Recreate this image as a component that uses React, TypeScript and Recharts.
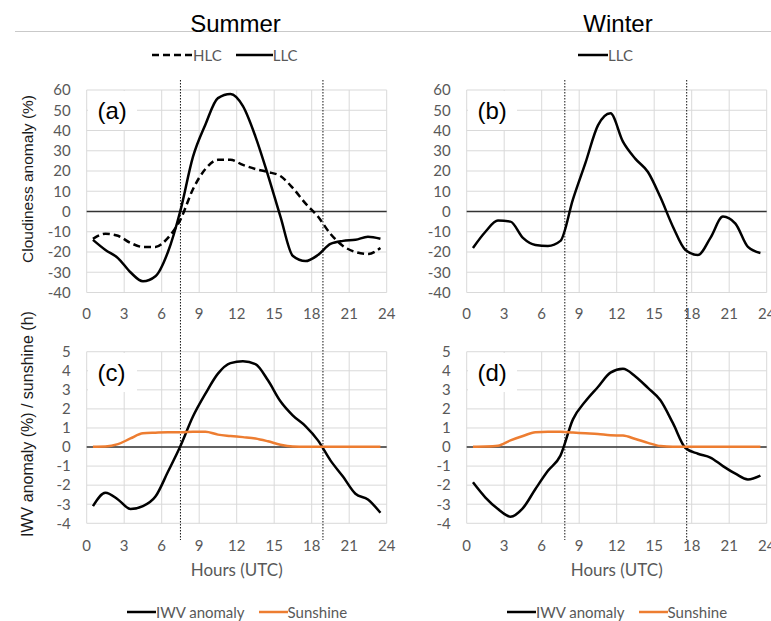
import React from "react"
import { LineChart, Line, XAxis, YAxis, CartesianGrid, ReferenceLine, Legend } from "recharts"

// hourly means, plotted at the middle of each hour
const hours = [0.5, 1.5, 2.5, 3.5, 4.5, 5.5, 6.5, 7.5, 8.5, 9.5, 10.5, 11.5, 12.5, 13.5, 14.5, 15.5, 16.5, 17.5, 18.5, 19.5, 20.5, 21.5, 22.5, 23.5]

const summerHLC = [-13.5, -11, -12, -15.5, -17.5, -17.5, -13, -4, 11, 21, 25.5, 25.5, 23, 21, 19.5, 17.5, 11.5, 4, -2.5, -11, -17, -20, -21, -18]
const summerLLC = [-14, -19, -23, -30, -34.5, -32, -20, 0.5, 27, 43, 56, 58, 52, 37, 18, -2.5, -22, -24.5, -21.5, -16, -14.5, -14, -12.5, -13.5]
const winterLLC = [-18, -10, -4.5, -5, -13, -16.5, -17, -14.5, 6, 24, 42.5, 48.5, 34.5, 26, 19.5, 7, -7.5, -19, -21.5, -13, -2.5, -6, -17.5, -20.5]

const summerIWV = [-3.1, -2.4, -2.75, -3.25, -3.1, -2.6, -1.3, 0.05, 1.6, 2.8, 3.85, 4.4, 4.5, 4.35, 3.5, 2.4, 1.65, 1.1, 0.35, -0.7, -1.55, -2.45, -2.75, -3.45]
const summerSunshine = [0.02, 0.03, 0.15, 0.45, 0.72, 0.75, 0.77, 0.77, 0.8, 0.8, 0.65, 0.58, 0.52, 0.45, 0.3, 0.12, 0.03, 0.02, 0.02, 0.02, 0.02, 0.02, 0.02, 0.02]
const winterIWV = [-1.85, -2.65, -3.25, -3.65, -3.2, -2.2, -1.25, -0.45, 1.45, 2.4, 3.15, 3.9, 4.1, 3.7, 3.1, 2.45, 1.25, -0.05, -0.35, -0.55, -1.0, -1.4, -1.7, -1.5]
const winterSunshine = [0.02, 0.03, 0.07, 0.35, 0.58, 0.77, 0.8, 0.8, 0.76, 0.72, 0.68, 0.62, 0.6, 0.42, 0.22, 0.05, 0.02, 0.02, 0.02, 0.02, 0.02, 0.02, 0.02, 0.02]

// sunrise / sunset hours (UTC)
const summerDaylight = [7.5, 18.9]
const winterDaylight = [7.85, 17.6]

const hourTicks = [0, 3, 6, 9, 12, 15, 18, 21, 24]
const cloudTicks = [-40, -30, -20, -10, 0, 10, 20, 30, 40, 50, 60]
const iwvTicks = [-4, -3, -2, -1, 0, 1, 2, 3, 4, 5]

const summerCloud = hours.map((h, i) => ({ hour: h, HLC: summerHLC[i], LLC: summerLLC[i] }))
const winterCloud = hours.map((h, i) => ({ hour: h, LLC: winterLLC[i] }))
const summerVapour = hours.map((h, i) => ({ hour: h, iwv: summerIWV[i], sun: summerSunshine[i] }))
const winterVapour = hours.map((h, i) => ({ hour: h, iwv: winterIWV[i], sun: winterSunshine[i] }))

const TOP_H = 335
const BOTTOM_H = 286
const ORANGE = "#ED7D31"
const tickStyle = { fill: "#595959", fontSize: 15, fontFamily: "Lato" }

const dotted = (y1: number, y2: number) => (props: any) => (
  <line x1={props.x1} x2={props.x2} y1={y1} y2={y2} stroke="#111" strokeWidth={1} strokeDasharray="1.5 1.5" />
)

const legendContent = (lengths: number[]) => (props: any) => {
  const payload = props.payload || []
  return (
    <div style={{ display: "flex", alignItems: "center", fontFamily: "Lato", fontSize: 15, color: "#595959" }}>
      {payload.map((entry: any, i: number) => (
        <div key={entry.value} style={{ display: "flex", alignItems: "center", marginRight: 14 }}>
          <svg width={lengths[i]} height={8}>
            <line
              x1={0}
              x2={lengths[i]}
              y1={4}
              y2={4}
              stroke={entry.color}
              strokeWidth={2.5}
              strokeDasharray={entry.payload?.strokeDasharray}
            />
          </svg>
          <span>{entry.value}</span>
        </div>
      ))}
    </div>
  )
}

function PanelTag({ left, top, text }: { left: number; top: number; text: string }) {
  return (
    <div
      style={{
        position: "absolute",
        left,
        top,
        width: 49,
        height: 39,
        background: "#fff",
        fontFamily: "Liberation Sans",
        fontSize: 24,
        lineHeight: "39px",
        paddingLeft: 10,
        boxSizing: "border-box",
        color: "#000",
      }}
    >
      {text}
    </div>
  )
}

function AxisTitle({ x, y, size, text }: { x: number; y: number; size: number; text: string }) {
  return (
    <div
      style={{
        position: "absolute",
        left: x,
        top: y,
        transform: "translate(-50%, -50%) rotate(-90deg)",
        whiteSpace: "nowrap",
        fontFamily: "Liberation Sans",
        fontSize: size,
        color: "#1a1a1a",
      }}
    >
      {text}
    </div>
  )
}

function CloudChart({ data, bounds, marginLeft, marginRight, showHLC, legendLeft, legendLengths }: any) {
  return (
    <LineChart width={marginLeft + 40 + 300 + marginRight} height={TOP_H} data={data} margin={{ top: 90, right: marginRight, bottom: 12.5, left: marginLeft }}>
      <CartesianGrid stroke="#D9D9D9" />
      <XAxis type="number" dataKey="hour" domain={[0, 24]} ticks={hourTicks} interval={0} axisLine={false} tickLine={false} tickMargin={10} height={30} tick={tickStyle} />
      <YAxis type="number" domain={[-40, 60]} ticks={cloudTicks} interval={0} axisLine={false} tickLine={false} tickMargin={10} width={40} tick={tickStyle} />
      <ReferenceLine y={0} stroke="#333" strokeWidth={1.5} />
      {bounds.map((b: number) => (
        <ReferenceLine key={b} x={b} shape={dotted(80, TOP_H)} />
      ))}
      {showHLC && (
        <Line type="monotone" dataKey="HLC" name="HLC" stroke="#000" strokeWidth={2.5} strokeDasharray="7 4" dot={false} isAnimationActive={false} />
      )}
      <Line type="monotone" dataKey="LLC" name="LLC" stroke="#000" strokeWidth={2.5} dot={false} isAnimationActive={false} />
      <Legend verticalAlign="middle" align="center" wrapperStyle={{ left: legendLeft, top: 46, width: 250 }} content={legendContent(legendLengths)} />
    </LineChart>
  )
}

function VapourChart({ data, bounds, marginLeft, marginRight, legendLeft }: any) {
  return (
    <LineChart width={marginLeft + 40 + 300 + marginRight} height={BOTTOM_H} data={data} margin={{ top: 16.7, right: marginRight, bottom: 67.7, left: marginLeft }}>
      <CartesianGrid stroke="#D9D9D9" />
      <XAxis
        type="number"
        dataKey="hour"
        domain={[0, 24]}
        ticks={hourTicks}
        interval={0}
        axisLine={false}
        tickLine={false}
        tickMargin={11}
        height={30}
        tick={tickStyle}
        label={{ value: "Hours (UTC)", position: "bottom", offset: 11, fill: "#595959", fontSize: 17, fontFamily: "Lato" }}
      />
      <YAxis type="number" domain={[-4, 5]} ticks={iwvTicks} interval={0} axisLine={false} tickLine={false} tickMargin={10} width={40} tick={tickStyle} />
      <ReferenceLine y={0} stroke="#333" strokeWidth={1.5} />
      {bounds.map((b: number) => (
        <ReferenceLine key={b} x={b} shape={dotted(0, 205)} />
      ))}
      <Line type="monotone" dataKey="iwv" name="IWV anomaly" stroke="#000" strokeWidth={2.5} dot={false} isAnimationActive={false} />
      <Line type="monotone" dataKey="sun" name="Sunshine" stroke={ORANGE} strokeWidth={2.5} dot={false} isAnimationActive={false} />
      <Legend verticalAlign="middle" align="center" wrapperStyle={{ left: legendLeft, top: 268, width: 260 }} content={legendContent([29, 29])} />
    </LineChart>
  )
}

export default function App() {
  return (
    <div style={{ position: "absolute", left: 0, top: 0, width: 771, height: 621, background: "#fff", overflow: "hidden", fontFamily: "Lato" }}>
      <div style={{ position: "absolute", left: 15, top: 31, width: 756, height: 1, background: "#C9C9C9" }} />
      <div style={{ position: "absolute", left: 235.5, top: 11.5, transform: "translateX(-50%)", fontFamily: "Liberation Sans", fontSize: 24, lineHeight: "24px", color: "#000", whiteSpace: "nowrap" }}>
        Summer
      </div>
      <div style={{ position: "absolute", left: 618, top: 11.5, transform: "translateX(-50%)", fontFamily: "Liberation Sans", fontSize: 24, lineHeight: "24px", color: "#000", whiteSpace: "nowrap" }}>
        Winter
      </div>

      <div style={{ position: "absolute", left: 0, top: 0 }}>
        <CloudChart data={summerCloud} bounds={summerDaylight} marginLeft={46.7} marginRight={12} showHLC legendLeft={152} legendLengths={[41, 37]} />
      </div>
      <div style={{ position: "absolute", left: 390, top: 0 }}>
        <CloudChart data={winterCloud} bounds={winterDaylight} marginLeft={36.7} marginRight={4} showHLC={false} legendLeft={188} legendLengths={[30]} />
      </div>
      <div style={{ position: "absolute", left: 0, top: TOP_H }}>
        <VapourChart data={summerVapour} bounds={summerDaylight} marginLeft={46.7} marginRight={12} legendLeft={127} />
      </div>
      <div style={{ position: "absolute", left: 390, top: TOP_H }}>
        <VapourChart data={winterVapour} bounds={winterDaylight} marginLeft={36.7} marginRight={4} legendLeft={117} />
      </div>

      <PanelTag left={87.5} top={91} text="(a)" />
      <PanelTag left={467.5} top={91} text="(b)" />
      <PanelTag left={87.5} top={352.5} text="(c)" />
      <PanelTag left={467.5} top={352.5} text="(d)" />

      <AxisTitle x={27.5} y={178.5} size={15.5} text="Cloudiness anomaly (%)" />
      <AxisTitle x={27.5} y={424} size={16} text="IWV anomaly (%) / sunshine (h)" />
    </div>
  )
}
